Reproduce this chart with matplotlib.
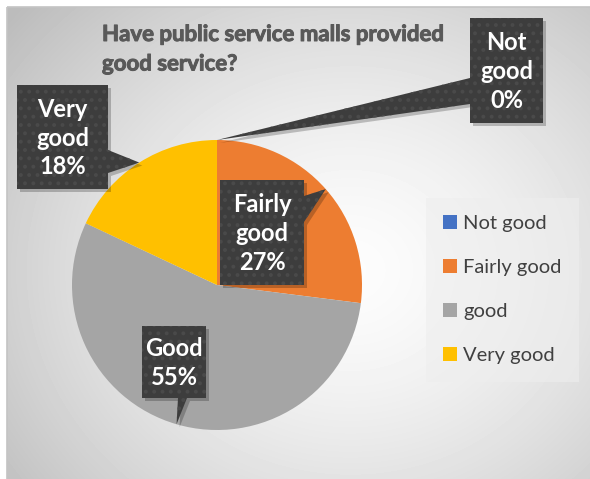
import numpy as np
import matplotlib
matplotlib.use("Agg")
import matplotlib.pyplot as plt
import matplotlib.patheffects as pe
from matplotlib.patches import Polygon, Rectangle, Patch

plt.rcParams['font.family'] = ['Lato', 'DejaVu Sans']
plt.rcParams['hatch.linewidth'] = 1.6

# survey answers
labels = ['Not good', 'Fairly good', 'good', 'Very good']
callout_names = ['Not\ngood', 'Fairly\ngood', 'Good', 'Very\ngood']
shares = [0, 27, 55, 18]
colors = ['#4472C4', '#ED7D31', '#A5A5A5', '#FFC000']
title = 'Have public service malls provided\ngood service?'

W, H = 590, 479
cx, cy, R = 217, 285, 145   # pie centre / radius in pixels

fig = plt.figure(figsize=(W / 100, H / 100), dpi=100)
fig.patch.set_facecolor('white')

# background panel with a soft radial gradient
bg = fig.add_axes([0, 0, 1, 1])
bg.set_xlim(0, W)
bg.set_ylim(H, 0)
bg.axis('off')
yy, xx = np.mgrid[7:H, 7:W]
d = np.hypot((xx - 350) / 340.0, (yy - 270) / 300.0)
shade = 0.99 - 0.17 * np.clip(d, 0, 1.3) ** 1.5
bg.imshow(shade, cmap='gray', vmin=0, vmax=1, extent=(7, W, H, 7),
          interpolation='bilinear', aspect='auto', zorder=0)
bg.add_patch(Rectangle((7, 7), W, H, fill=False, edgecolor='#c4c4c4', lw=1.2, zorder=1))
ttl = bg.text(102, 24, title, fontsize=16, fontweight='bold', color='#595959',
              va='top', ha='left', linespacing=1.5, zorder=2,
              path_effects=[pe.withStroke(linewidth=0.7, foreground='#595959')])
ttl.set_clip_path(Rectangle((90, 10), 400, 60, transform=bg.transData))

# pie
pax = fig.add_axes([(cx - R) / W, (H - cy - R) / H, 2 * R / W, 2 * R / H])
pax.set_facecolor('none')
wedges, _ = pax.pie(shares, colors=colors, startangle=90, counterclock=False,
                    radius=1, wedgeprops=dict(linewidth=0))
pax.set_xlim(-1, 1)
pax.set_ylim(-1, 1)
pax.set_aspect('equal')
pax.axis('off')

# callouts on top
top = fig.add_axes([0, 0, 1, 1])
top.set_xlim(0, W)
top.set_ylim(H, 0)
top.axis('off')
top.set_facecolor('none')

total = float(sum(shares))
angles = []
a0 = 90.0
for s in shares:
    a1 = a0 - 360 * s / total
    angles.append(np.radians((a0 + a1) / 2))
    a0 = a1


def tip_of(i):
    a = angles[i]
    return (cx + R * np.cos(a), cy - R * np.sin(a))


def callout(box, base, tip, text):
    x0, y0, x1, y1 = box
    rect = [(x0, y0), (x1, y0), (x1, y1), (x0, y1)]
    arrow = [base[0], tip, base[1]]
    for pts in (rect, arrow):
        sh = [(px + 3, py + 3) for px, py in pts]
        top.add_patch(Polygon(sh, closed=True, facecolor='black', alpha=0.22,
                              edgecolor='none', zorder=3))
    for pts in (rect, arrow):
        top.add_patch(Polygon(pts, closed=True, facecolor='#3d3d3d',
                              edgecolor='none', zorder=4))
        top.add_patch(Polygon(pts, closed=True, facecolor='none',
                              edgecolor='#4a4a4a', hatch='..', lw=0, zorder=5))
    top.text((x0 + x1) / 2, (y0 + y1) / 2 + 1, text, color='white',
             fontsize=17, fontweight='bold', ha='center', va='center',
             linespacing=1.3, zorder=6)


fmt = lambda i: '%s\n%d%%' % (callout_names[i], shares[i])
callout((470, 18, 543, 123), [(470, 78), (470, 104)], tip_of(0), fmt(0))
callout((220, 180, 304, 285), [(304, 196), (304, 222)], tip_of(1), fmt(1))
callout((142, 326, 206, 398), [(178, 398), (187, 398)], tip_of(2), fmt(2))
callout((17, 85, 108, 189), [(108, 150), (108, 173)], tip_of(3), fmt(3))

handles = [Patch(facecolor=c, edgecolor='none') for c in colors]
leg = fig.legend(handles, labels, loc='upper left',
                 bbox_to_anchor=(426 / W, 1 - 198 / H),
                 frameon=True, fontsize=14.5, handlelength=0.7, handleheight=0.7,
                 handletextpad=0.3, labelspacing=1.34, borderpad=0.85,
                 borderaxespad=0)
leg.get_frame().set_facecolor('#eeeeee')
leg.get_frame().set_edgecolor('none')
leg.get_frame().set_alpha(0.6)
leg.get_frame().set_boxstyle('square', pad=0)
for t in leg.get_texts():
    t.set_color('#404040')

fig.savefig('out.png', dpi=100)
